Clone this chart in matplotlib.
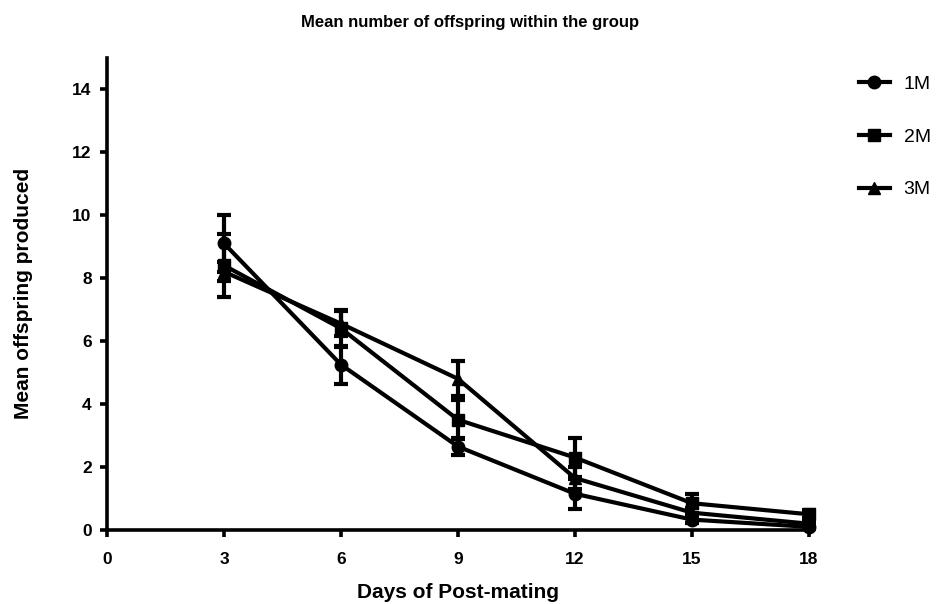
import matplotlib
matplotlib.use("Agg")
import matplotlib.pyplot as plt
from matplotlib.lines import Line2D

plt.rcParams['font.family'] = ['Liberation Sans', 'DejaVu Sans']

days = [3, 6, 9, 12, 15, 18]

series_names = ["1M", "2M", "3M"]
mean_1m = [9.1, 5.25, 2.65, 1.15, 0.33, 0.10]
err_1m = [0.9, 0.6, 0.28, 0.47, 0.10, 0.05]
mean_2m = [8.4, 6.4, 3.5, 2.3, 0.85, 0.5]
err_2m = [1.0, 0.6, 0.62, 0.62, 0.30, 0.12]
mean_3m = [8.2, 6.55, 4.8, 1.65, 0.55, 0.2]
err_3m = [0.3, 0.4, 0.55, 0.35, 0.15, 0.08]

x_ticks = [0, 3, 6, 9, 12, 15, 18]
y_ticks = [0, 2, 4, 6, 8, 10, 12, 14]

markers = ["o", "s", "^"]
means = [mean_1m, mean_2m, mean_3m]
errs = [err_1m, err_2m, err_3m]

fig = plt.figure(figsize=(9.4, 6.04), dpi=100)
ax = fig.add_axes([0.1138, 0.1225, 0.7468, 0.7823])

for m, e, mk in zip(means, errs, markers):
    ax.errorbar(days, m, yerr=e, color="black", lw=3, marker=mk,
                markersize=9, capsize=5, capthick=3, elinewidth=3,
                clip_on=False, zorder=3)

ax.set_xlim(0, 18)
ax.set_ylim(0, 15)
ax.set_xticks(x_ticks)
ax.set_yticks(y_ticks)
ax.set_xticklabels([str(t) for t in x_ticks], fontsize=12.5, fontweight="bold")
ax.set_yticklabels([str(t) for t in y_ticks], fontsize=12.5, fontweight="bold")

for side in ("top", "right"):
    ax.spines[side].set_visible(False)
for side in ("left", "bottom"):
    ax.spines[side].set_linewidth(2.6)
ax.tick_params(axis="both", direction="out", length=5, width=2.6)
ax.tick_params(axis="x", pad=11)
ax.tick_params(axis="y", pad=6)

ax.set_xlabel("Days of Post-mating", fontsize=15, fontweight="bold", labelpad=11)
ax.set_ylabel("Mean offspring produced", fontsize=15, fontweight="bold", labelpad=28)
fig.text(0.5, 0.962, "Mean number of offspring within the group",
         ha="center", va="center", fontsize=12, fontweight="bold")

handles = [Line2D([0], [0], color="black", lw=3, marker=mk, markersize=9)
           for mk in markers]
fig.legend(handles, series_names, loc="upper left",
           bbox_to_anchor=(0.895, 0.904), frameon=False, fontsize=14,
           handlelength=1.6, labelspacing=1.8, handletextpad=0.7)

fig.savefig("out.png", dpi=100)
